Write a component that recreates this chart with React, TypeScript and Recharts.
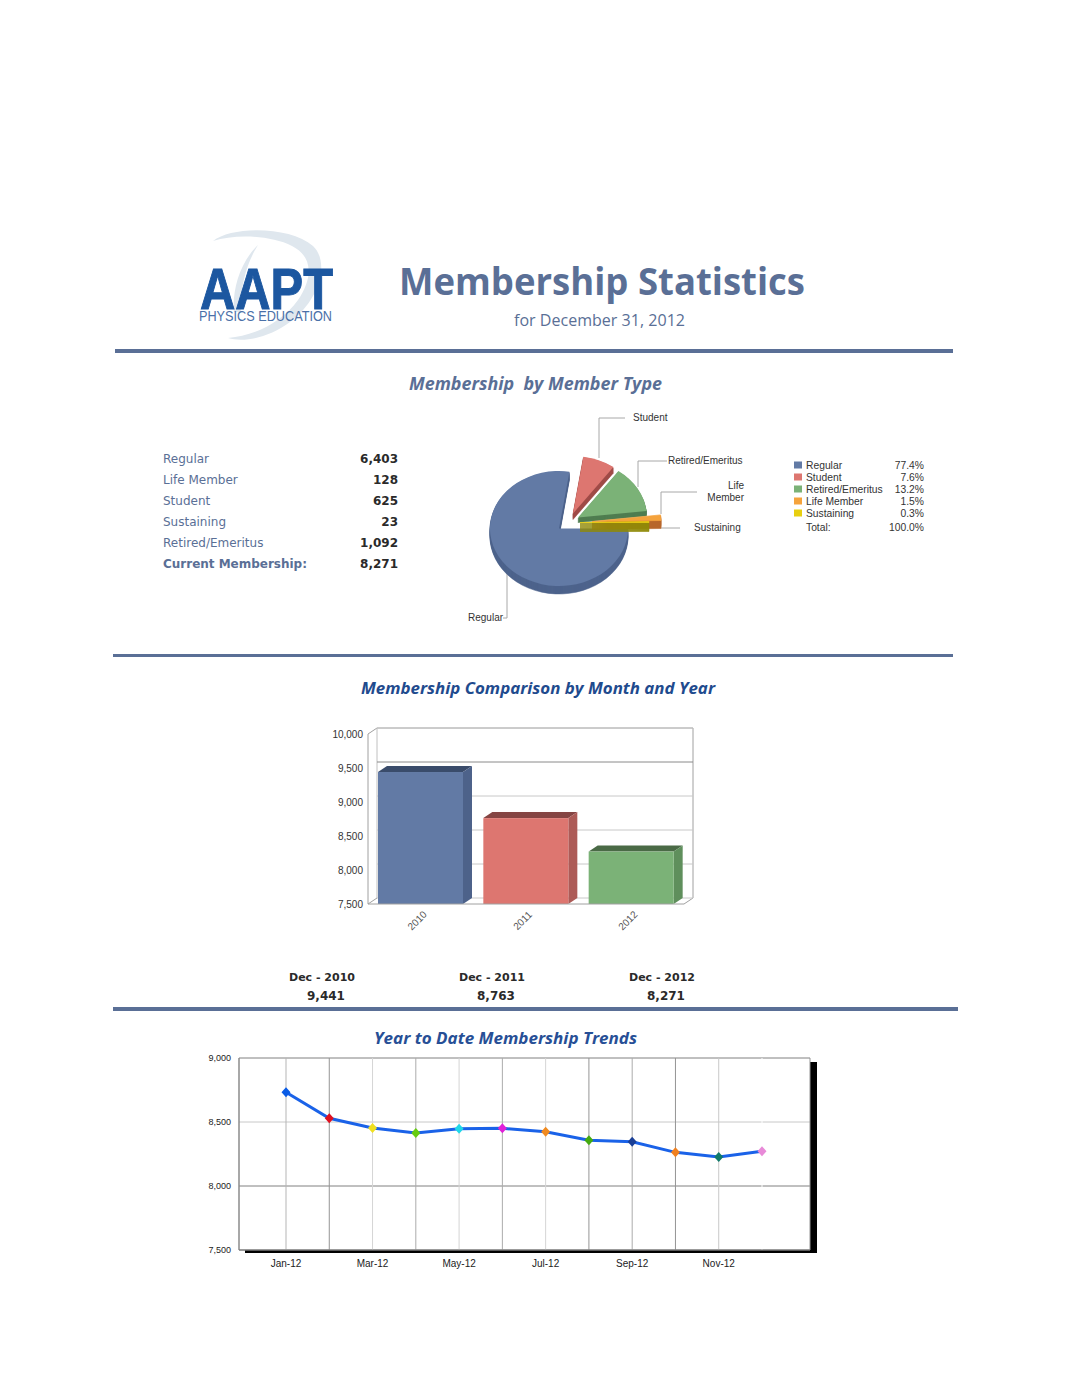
import React from 'react';
import {
  PieChart,
  Pie,
  Sector,
  BarChart,
  Bar,
  LineChart,
  Line,
  XAxis,
  YAxis,
  CartesianGrid,
} from 'recharts';

// member type table
const tableLabels = ['Regular', 'Life Member', 'Student', 'Sustaining', 'Retired/Emeritus'];
const tableCounts = ['6,403', '128', '625', '23', '1,092'];

// pie + legend
const pieNames = ['Regular', 'Student', 'Retired/Emeritus', 'Life Member', 'Sustaining'];
const pieCounts = [6403, 625, 1092, 128, 23];
const piePercents = ['77.4%', '7.6%', '13.2%', '1.5%', '0.3%'];
const pieColors = ['#627aa5', '#dd7670', '#7bb277', '#f5a33c', '#e8cf10'];
const pieSideColors = ['#4d638c', '#a04c48', '#4f7d50', '#b8662c', '#8f8a08'];

// year comparison
const years = ['2010', '2011', '2012'];
const yearTotals = [9441, 8763, 8271];
const yearLabels = ['Dec - 2010', 'Dec - 2011', 'Dec - 2012'];
const yearTotalLabels = ['9,441', '8,763', '8,271'];
const barColors = ['#627aa5', '#dd7670', '#7bb277'];
const barTopColors = ['#3a4c6b', '#854543', '#4a6a46'];
const barSideColors = ['#4d628a', '#ad5b57', '#5f8f5c'];
const barTicks = [7500, 8000, 8500, 9000, 9500, 10000];

// year to date trend
const months = ['Jan-12', 'Feb-12', 'Mar-12', 'Apr-12', 'May-12', 'Jun-12', 'Jul-12', 'Aug-12', 'Sep-12', 'Oct-12', 'Nov-12', 'Dec-12'];
const monthTotals = [8732, 8529, 8453, 8414, 8448, 8451, 8424, 8357, 8346, 8263, 8227, 8271];
const dotColors = ['#0a5ce6', '#e01020', '#f0e020', '#66cc10', '#20d8e8', '#e020d8', '#f08a20', '#44aa10', '#1a3f96', '#f08020', '#107a6a', '#e88ad8'];
const monthGridColors = ['#b5b5b5', '#959595', '#d5d5d5', '#ababab', '#d5d5d5', '#ababab', '#d5d5d5', '#959595', '#ababab', '#959595', '#c8c8c8', '#ffffff'];
const trendTicks = [7500, 8000, 8500, 9000];

const pieData = pieNames.map((name, i) => ({ name, value: pieCounts[i] }));
const barData = years.map((year, i) => ({ year, total: yearTotals[i] }));
const lineData = months.map((month, i) => ({ month, total: monthTotals[i] }));

// how far each wedge is pulled out, and how thick it is
const sliceOffsets = [
  { dx: 0, dy: 0, depth: 8 },
  { dx: 14, dy: -15, depth: 6 },
  { dx: 19, dy: -11, depth: 5 },
  { dx: 33, dy: -7, depth: 8 },
  { dx: 21, dy: -6, depth: 9 },
];
const PIE_SQUASH = 0.833;

const SANS = '"Liberation Sans", Arial, sans-serif';
const WIDE = '"DejaVu Sans", sans-serif';
const HEAD = '"Open Sans", sans-serif';
const SLATE = '#5a6f96';

const PieSlice = (props: any) => {
  const { cx, cy, outerRadius, startAngle, endAngle, index } = props;
  const o = sliceOffsets[index];
  const layers = [];
  for (let d = o.depth; d >= 1; d--) {
    layers.push(
      <g key={d} transform={`translate(${cx + o.dx},${cy + o.dy + d}) scale(1,${PIE_SQUASH})`}>
        <Sector cx={0} cy={0} innerRadius={0} outerRadius={outerRadius} startAngle={startAngle} endAngle={endAngle} fill={pieSideColors[index]} stroke={pieSideColors[index]} strokeWidth={0.6} />
      </g>
    );
  }
  return (
    <g>
      {layers}
      <g transform={`translate(${cx + o.dx},${cy + o.dy}) scale(1,${PIE_SQUASH})`}>
        <Sector cx={0} cy={0} innerRadius={0} outerRadius={outerRadius} startAngle={startAngle} endAngle={endAngle} fill={pieColors[index]} stroke={index > 2 ? pieColors[index] : 'none'} strokeWidth={0.8} />
      </g>
    </g>
  );
};

const Bar3D = (props: any) => {
  const { x, y, width, height, index } = props;
  const dx = 9;
  const dy = 6;
  return (
    <g>
      <polygon points={`${x},${y} ${x + dx},${y - dy} ${x + width + dx},${y - dy} ${x + width},${y}`} fill={barTopColors[index]} />
      <polygon points={`${x + width},${y} ${x + width + dx},${y - dy} ${x + width + dx},${y + height - dy} ${x + width},${y + height}`} fill={barSideColors[index]} />
      <rect x={x} y={y} width={width} height={height} fill={barColors[index]} />
    </g>
  );
};

const YearTick = ({ x, y, payload }: any) => (
  <text x={x - 1} y={y + 11} transform={`rotate(-45 ${x - 1} ${y + 11})`} textAnchor="middle" fontFamily={SANS} fontSize={10} fill="#555">
    {payload.value}
  </text>
);

// every month gets a grid line but only every other one a label
const MonthTick = ({ x, y, payload, index }: any) =>
  index % 2 === 0 ? (
    <text x={x} y={y + 9} textAnchor="middle" fontFamily={SANS} fontSize={10} fill="#222">
      {payload.value}
    </text>
  ) : (
    <g />
  );

const BarGridLine = ({ x1, x2, y1, index }: any) => (
  <line key={index} x1={x1 + 9} x2={x2 + 9} y1={y1 - 6} y2={y1 - 6} stroke={index === 4 ? '#8a8a8a' : '#c8c8c8'} strokeWidth={1} />
);

const TrendGridH = ({ x1, x2, y1, index }: any) => (
  <line key={index} x1={x1} x2={x2} y1={y1} y2={y1} stroke={index === 2 ? '#c8c8c8' : '#808080'} strokeWidth={1} />
);

const TrendGridV = ({ x1, y1, y2, index }: any) => (
  <line key={index} x1={x1} x2={x1} y1={y1} y2={y2} stroke={monthGridColors[index % 12]} strokeWidth={1} />
);

const Diamond = ({ cx, cy, index }: any) => (
  <path key={index} d={`M${cx},${cy - 5}L${cx + 4.5},${cy}L${cx},${cy + 5}L${cx - 4.5},${cy}Z`} fill={dotColors[index]} />
);

const Leader = ({ points }: { points: string }) => (
  <polyline points={points} fill="none" stroke="#a8a8a8" strokeWidth={1} />
);

const Logo = () => (
  <g>
    <path d="M213,241 C232,226 290,226 313,246 C330,262 320,300 290,322 C270,337 245,343 228,338 C255,336 282,322 298,300 C314,276 312,256 292,246 C270,235 235,234 213,241Z" fill="#dfe7ee" />
    <path d="M258,245 C240,262 232,290 234,312 L241,312 C240,288 246,264 258,245Z" fill="#dfe7ee" />
    <text x={200} y={309} fontFamily={SANS} fontWeight={700} fontSize={57} fill="#1c57a0" stroke="#1c57a0" strokeWidth={1} textLength={133} lengthAdjust="spacingAndGlyphs">AAPT</text>
    <text x={199} y={321} fontFamily={SANS} fontSize={14} fill="#4a70a8" textLength={133} lengthAdjust="spacingAndGlyphs">PHYSICS EDUCATION</text>
  </g>
);

export default function App() {
  const tableRows = [458, 479, 500, 521, 542];
  const legendRows = [465, 477, 489, 501, 513];

  return (
    <div style={{ position: 'absolute', left: 0, top: 0, width: 1071, height: 1386, background: '#fff', overflow: 'hidden' }}>
      {/* page furniture and all text outside the charts */}
      <svg width={1071} height={1386} style={{ position: 'absolute', left: 0, top: 0 }}>
        <Logo />
        <text x={399} y={295} fontFamily={HEAD} fontWeight={700} fontSize={37} fill={SLATE} textLength={406} lengthAdjust="spacingAndGlyphs">Membership Statistics</text>
        <text x={514} y={326} fontFamily={HEAD} fontSize={17} fill={SLATE} textLength={171} lengthAdjust="spacingAndGlyphs">for December 31, 2012</text>
        <rect x={115} y={349} width={838} height={4} fill={SLATE} />
        <rect x={113} y={654} width={840} height={3} fill={SLATE} />
        <rect x={113} y={1007} width={845} height={4} fill={SLATE} />

        <text x={409} y={390} fontFamily={HEAD} fontWeight={700} fontStyle="italic" fontSize={17} fill={SLATE} textLength={253} lengthAdjust="spacingAndGlyphs" xmlSpace="preserve">Membership  by Member Type</text>
        <text x={361} y={694} fontFamily={HEAD} fontWeight={700} fontStyle="italic" fontSize={16} fill="#1f4b8e" textLength={354} lengthAdjust="spacingAndGlyphs">Membership Comparison by Month and Year</text>
        <text x={374} y={1044} fontFamily={HEAD} fontWeight={700} fontStyle="italic" fontSize={16} fill="#274f96" textLength={263} lengthAdjust="spacingAndGlyphs">Year to Date Membership Trends</text>

        {tableLabels.map((label, i) => (
          <g key={label}>
            <text x={163} y={tableRows[i] + 4.5} fontFamily={WIDE} fontSize={12} fill={SLATE}>{label}</text>
            <text x={398} y={tableRows[i] + 4.5} textAnchor="end" fontFamily={WIDE} fontWeight={700} fontSize={12} fill="#2a2a2a">{tableCounts[i]}</text>
          </g>
        ))}
        <text x={163} y={567.5} fontFamily={WIDE} fontWeight={700} fontSize={12} fill={SLATE} textLength={144}>Current Membership:</text>
        <text x={398} y={567.5} textAnchor="end" fontFamily={WIDE} fontWeight={700} fontSize={12} fill="#2a2a2a">8,271</text>

        {/* pie call-outs */}
        <Leader points="599,458 599,418 625,418" />
        <Leader points="638,487 638,461 667,461" />
        <Leader points="661,514 661,492 697,492" />
        <Leader points="661,528 680,528" />
        <Leader points="507,568 507,618 503,618" />
        <g fontFamily={SANS} fontSize={10} fill="#333">
          <text x={633} y={421}>Student</text>
          <text x={668} y={464}>Retired/Emeritus</text>
          <text x={744} y={489} textAnchor="end">Life</text>
          <text x={744} y={501} textAnchor="end">Member</text>
          <text x={694} y={531}>Sustaining</text>
          <text x={468} y={621}>Regular</text>
        </g>

        {/* pie legend */}
        <g fontFamily={SANS} fontSize={10.3} fill="#333">
          {pieNames.map((name, i) => (
            <g key={name}>
              <rect x={794} y={legendRows[i] - 3.5} width={8} height={7} fill={pieColors[i]} />
              <text x={806} y={legendRows[i] + 3.5}>{name}</text>
              <text x={924} y={legendRows[i] + 3.5} textAnchor="end">{piePercents[i]}</text>
            </g>
          ))}
          <text x={806} y={530.5}>Total:</text>
          <text x={924} y={530.5} textAnchor="end">100.0%</text>
        </g>

        {/* walls of the 3d bar chart */}
        <polyline points="368,734 377,728 693,728 693,898 684,904" fill="none" stroke="#a0a0a0" />
        <line x1={377} y1={728} x2={377} y2={898} stroke="#c0c0c0" />
        <line x1={368} y1={904} x2={377} y2={898} stroke="#a0a0a0" />

        {yearLabels.map((label, i) => (
          <g key={label} fontFamily={WIDE} fontWeight={700} fontSize={11} fill="#2a2a2a">
            <text x={322 + i * 170} y={981} textAnchor="middle">{label}</text>
            <text x={326 + i * 170} y={1000} textAnchor="middle" fontSize={12}>{yearTotalLabels[i]}</text>
          </g>
        ))}

        {/* black drop shadow of the trend chart */}
        <rect x={810} y={1062} width={7} height={191} fill="#000" />
        <rect x={245} y={1250} width={572} height={3} fill="#000" />
      </svg>

      <div style={{ position: 'absolute', left: 450, top: 400 }}>
        <PieChart width={300} height={240} margin={{ top: 0, right: 0, bottom: 0, left: 0 }}>
          <Pie
            data={pieData}
            dataKey="value"
            nameKey="name"
            cx={109}
            cy={128.5}
            outerRadius={69}
            startAngle={0}
            endAngle={-360}
            stroke="none"
            shape={PieSlice}
            isAnimationActive={false}
          />
        </PieChart>
      </div>

      <div style={{ position: 'absolute', left: 320, top: 715 }}>
        <BarChart width={390} height={225} data={barData} margin={{ top: 19, right: 26, bottom: 0, left: 0 }}>
          <CartesianGrid vertical={false} horizontal={BarGridLine} />
          <XAxis dataKey="year" height={36} tickLine={false} axisLine={{ stroke: '#a0a0a0' }} tick={<YearTick />} interval={0} />
          <YAxis
            width={48}
            domain={[7500, 10000]}
            ticks={barTicks}
            allowDataOverflow
            tickFormatter={(v: number) => v.toLocaleString('en-US')}
            tick={{ fontFamily: SANS, fontSize: 10, fill: '#333' }}
            tickLine={false}
            tickMargin={-1}
            axisLine={{ stroke: '#a0a0a0' }}
          />
          <Bar dataKey="total" barSize={85} shape={Bar3D} isAnimationActive={false} />
        </BarChart>
      </div>

      <div style={{ position: 'absolute', left: 200, top: 1045 }}>
        <LineChart width={630} height={235} data={lineData} margin={{ top: 13, right: 20, bottom: 0, left: 0 }}>
          <CartesianGrid horizontal={TrendGridH} vertical={TrendGridV} />
          <XAxis
            dataKey="month"
            height={30}
            padding={{ left: 47, right: 48 }}
            interval={0}
            tickLine={false}
            axisLine={{ stroke: '#777' }}
            tick={<MonthTick />}
          />
          <YAxis
            width={39}
            domain={[7500, 9000]}
            ticks={trendTicks}
            tickFormatter={(v: number) => v.toLocaleString('en-US')}
            tick={{ fontFamily: SANS, fontSize: 9, fill: '#222' }}
            tickLine={false}
            tickMargin={2}
            axisLine={{ stroke: '#777' }}
          />
          <Line dataKey="total" type="linear" stroke="#1a62e8" strokeWidth={3} dot={Diamond} isAnimationActive={false} />
        </LineChart>
      </div>
    </div>
  );
}
